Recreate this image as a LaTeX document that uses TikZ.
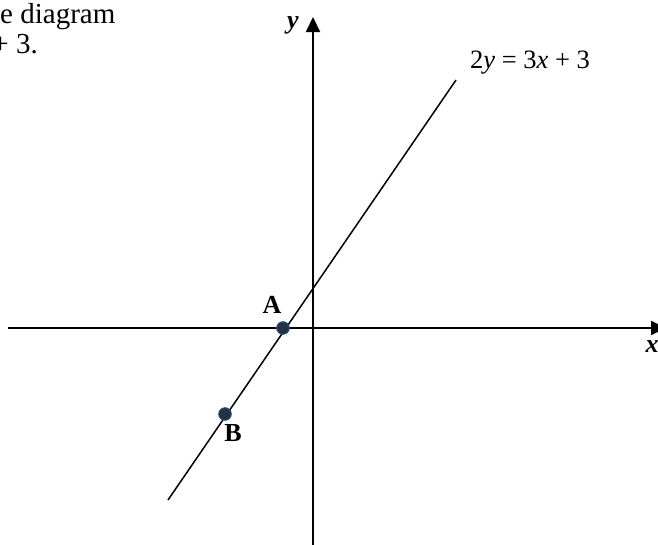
\documentclass[tikz,border=0pt]{standalone}
\usepackage{fontspec}
\setmainfont{Liberation Serif}
\usetikzlibrary{arrows.meta}

\begin{document}
\begin{tikzpicture}[x=1pt, y=-1pt,
  axis/.style={line width=2.2pt, -{Triangle[length=15pt, width=14pt]}},
  graph/.style={line width=1.5pt},
  dot/.style={circle, draw={rgb,255:red,31;green,78;blue,121}, fill={rgb,255:red,38;green,48;blue,66}, line width=1pt, minimum size=12.5pt, inner sep=0pt},
  lbl/.style={font=\fontsize{26}{30}\selectfont\bfseries, inner sep=0pt},
  eqn/.style={font=\fontsize{26.5}{30}\selectfont, inner sep=0pt},
  intro/.style={font=\fontsize{29}{33}\selectfont, inner sep=0pt}
]
% Frame of the picture
\useasboundingbox (0,0) rectangle (658,544);
\clip (0,0) rectangle (658,544);

% Cut-off text
\node[intro, anchor=base west] (t1) at (0,23) {e diagram};
\node[intro, anchor=base east] (t2) at (38,53) {+ 3.};

% Axes
\coordinate (xl) at (8,328);
\coordinate (xr) at (666,328);
\coordinate (yb) at (313,550);
\coordinate (yt) at (313,17);
\draw[axis] (xl) -- (xr);
\draw[axis] (yb) -- (yt);
\node[lbl, font=\fontsize{26}{30}\selectfont\bfseries\itshape, anchor=base] (ylab) at (293,28) {y};
\node[lbl, font=\fontsize{26}{30}\selectfont\bfseries\itshape, anchor=base] (xlab) at (652,352) {x};

% Line 2y = 3x + 3
\coordinate (lo) at (168,500);
\coordinate (hi) at (456,80);
\draw[graph] (lo) -- (hi);
\node[eqn, anchor=base west] (eq) at (470,68) {2\textit{y} = 3\textit{x} + 3};

% Points
\node[dot] (A) at (283,328) {};
\node[dot] (B) at (225,414) {};
\node[lbl] (Alab) at (272,305) {A};
\node[lbl] (Blab) at (233,433) {B};
\end{tikzpicture}
\end{document}
